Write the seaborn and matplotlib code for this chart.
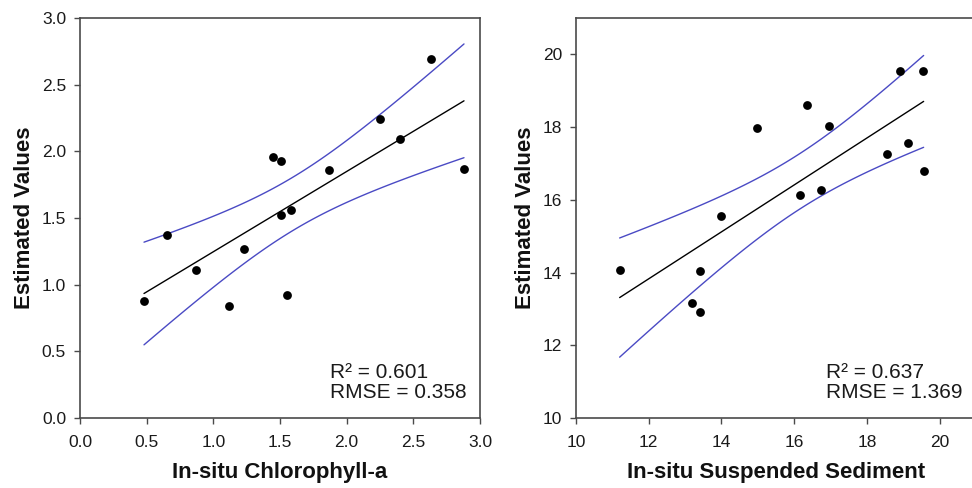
import numpy as np
import pandas as pd
import seaborn as sns
import matplotlib
matplotlib.use("Agg")
import matplotlib.pyplot as plt

# Chlorophyll-a panel
chl_insitu = [0.48, 0.65, 0.87, 1.12, 1.23, 1.45, 1.51, 1.51, 1.58, 1.55, 1.87, 2.25, 2.40, 2.63, 2.88]
chl_est = [0.88, 1.37, 1.11, 0.84, 1.27, 1.96, 1.93, 1.52, 1.56, 0.92, 1.86, 2.24, 2.09, 2.69, 1.87]

# Suspended sediment panel
ss_insitu = [11.20, 13.18, 13.40, 13.40, 14.00, 14.97, 16.15, 16.35, 16.75, 16.95, 18.54, 18.91, 19.12, 19.55, 19.56]
ss_est = [14.06, 13.17, 14.03, 12.92, 15.56, 17.98, 16.13, 18.62, 16.26, 18.03, 17.25, 19.53, 17.57, 19.54, 16.80]

stats_chl = "R² = 0.601\nRMSE = 0.358"
stats_ss = "R² = 0.637\nRMSE = 1.369"

sns.set_style("ticks")
plt.rcParams['font.family'] = ['Liberation Sans', 'DejaVu Sans']

fig = plt.figure(figsize=(9.72, 4.88), dpi=100)
ax1 = fig.add_axes([80 / 972, 70 / 488, 400 / 972, 400 / 488])
ax2 = fig.add_axes([576 / 972, 70 / 488, 400 / 972, 400 / 488])

T_CRIT = 2.160  # t(0.975, df=13)


def panel(ax, x, y, lim, ticks, xlabel, stats):
    df = pd.DataFrame({"x": x, "y": y})
    # regression line
    sns.regplot(data=df, x="x", y="y", ax=ax, ci=None, scatter=False,
                truncate=True, line_kws=dict(color="black", lw=1))
    # 95% confidence band of the mean
    xa = np.asarray(x)
    ya = np.asarray(y)
    n = len(xa)
    b, a = np.polyfit(xa, ya, 1)
    resid = ya - (a + b * xa)
    s = np.sqrt(np.sum(resid ** 2) / (n - 2))
    xs = np.linspace(xa.min(), xa.max(), 100)
    se = s * np.sqrt(1 / n + (xs - xa.mean()) ** 2 / np.sum((xa - xa.mean()) ** 2))
    fit = a + b * xs
    ax.plot(xs, fit + T_CRIT * se, color="#4a4ac4", lw=1)
    ax.plot(xs, fit - T_CRIT * se, color="#4a4ac4", lw=1)
    # points
    sns.scatterplot(data=df, x="x", y="y", ax=ax, color="black", s=40,
                    edgecolor="black", linewidth=0, zorder=5)

    ax.set_xlim(*lim)
    ax.set_ylim(*lim)
    ax.set_xticks(ticks)
    ax.set_yticks(ticks)
    for sp in ax.spines.values():
        sp.set_visible(True)
        sp.set_color("#4a4a4a")
        sp.set_linewidth(1.2)
    ax.tick_params(direction="out", length=4, width=1, color="#4a4a4a",
                   labelsize=12.5, labelcolor="#1a1a1a", pad=6)
    ax.tick_params(axis="x", pad=8)
    ax.set_xlabel(xlabel, fontsize=16, fontweight="bold", labelpad=9,
                  color="#111111")
    ax.set_ylabel("Estimated Values", fontsize=16, fontweight="bold", labelpad=5,
                  color="#111111")
    ax.text(0.625, 0.04, stats, transform=ax.transAxes, ha="left", va="bottom",
            fontsize=15, linespacing=1.05, color="#1a1a1a")


panel(ax1, chl_insitu, chl_est, (0, 3), [0.0, 0.5, 1.0, 1.5, 2.0, 2.5, 3.0],
      "In-situ Chlorophyll-a", stats_chl)
ax1.xaxis.set_major_formatter(matplotlib.ticker.FormatStrFormatter("%.1f"))
ax1.yaxis.set_major_formatter(matplotlib.ticker.FormatStrFormatter("%.1f"))

panel(ax2, ss_insitu, ss_est, (10, 21), [10, 12, 14, 16, 18, 20],
      "In-situ Suspended Sediment", stats_ss)

fig.savefig("out.png", dpi=100)
